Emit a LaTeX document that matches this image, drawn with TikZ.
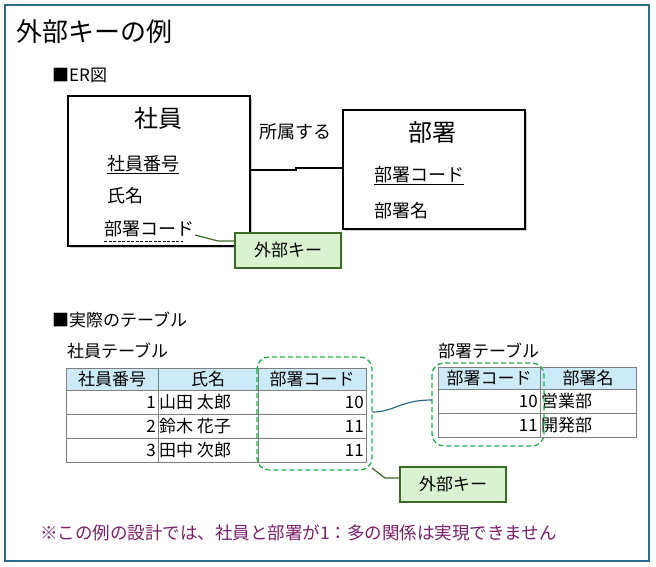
\documentclass[tikz,border=0pt]{standalone}
\usepackage{fontspec}
\setmainfont{Noto Sans CJK JP}
\usetikzlibrary{shadows}
\definecolor{frame}{HTML}{2E6A86}
\definecolor{gfill}{HTML}{D9F2D0}
\definecolor{gline}{HTML}{3B6A25}
\definecolor{hdr}{HTML}{CCEBF8}
\definecolor{grid}{HTML}{7F7F7F}
\definecolor{dgreen}{HTML}{1EB04A}
\definecolor{purp}{HTML}{7B1F6A}
\definecolor{link}{HTML}{2E6A8A}
\begin{document}
\begin{tikzpicture}[x=1pt,y=-1pt,
  ent/.style={draw=black,line width=1.3pt,fill=white,drop shadow={shadow xshift=2pt,shadow yshift=-2pt,opacity=0.4}},
  fk/.style={draw=gline,line width=1.3pt,fill=gfill,minimum width=106pt,minimum height=35pt,inner sep=0pt,font=\fontsize{17}{17}\selectfont},
  lbl/.style={anchor=west,inner sep=0pt,font=\fontsize{18}{18}\selectfont},
  cell/.style={inner sep=2pt,font=\fontsize{17}{17}\selectfont},
  gbox/.style={draw=dgreen,line width=1.3pt,dash pattern=on 5pt off 3pt,rounded corners=12pt}]
\useasboundingbox (0,0) rectangle (656,567);
\draw[frame,line width=1.2pt] (5,5) rectangle (649,561);
\node[lbl,font=\fontsize{26}{26}\selectfont] (title) at (16,32) {外部キーの例};
\node[lbl,font=\fontsize{17}{17}\selectfont] (er) at (52,75) {■ER図};
% entities
\node[ent,minimum width=182pt,minimum height=150pt,inner sep=0pt] (emp) at (159,171) {};
\node[ent,minimum width=182pt,minimum height=119pt,inner sep=0pt] (dep) at (434,169.5) {};
\node[font=\fontsize{24}{24}\selectfont] (empT) at (158,118) {社員};
\node[font=\fontsize{24}{24}\selectfont] (depT) at (432,132) {部署};
\node[lbl] (a1) at (107,165) {\underline{社員番号}};
\node[lbl] (a2) at (107,196) {氏名};
\node[lbl] (a3) at (104,229) {部署コード};
\draw[dash pattern=on 3pt off 1.5pt,line width=1pt] (104,241) -- (183,241);
\node[lbl] (b1) at (374,176) {\underline{部署コード}};
\node[lbl] (b2) at (374,211) {部署名};
\node[font=\fontsize{18}{18}\selectfont] (rel) at (295,132) {所属する};
\draw[line width=1.2pt] (emp.east|-0,170) -- (296,170) -- (296,168) -- (dep.west|-0,168);
\node[fk] (fk1) at (288,250.5) {外部キー};
\draw[gline,line width=1.2pt] (195,235) -- (218,241) -- (fk1.west|-0,241);
% tables
\node[lbl,font=\fontsize{17}{17}\selectfont] (real) at (52,320) {■実際のテーブル};
\node[lbl,font=\fontsize{17}{17}\selectfont] (t1) at (67,351) {社員テーブル};
\node[lbl,font=\fontsize{17}{17}\selectfont] (t2) at (438,351) {部署テーブル};
\fill[hdr] (66,368) rectangle (366,390);
\draw[grid,line width=0.8pt] (66,368) rectangle (366,462);
\foreach \y in {390,414,438} \draw[grid,line width=0.8pt] (66,\y) -- (366,\y);
\foreach \x in {158,258} \draw[grid,line width=0.8pt] (\x,368) -- (\x,462);
\node[cell] (h1) at (112,379) {社員番号};
\node[cell] (h2) at (208,379) {氏名};
\node[cell] (h3) at (312,379) {部署コード};
\foreach \n/\y/\nm/\c in {1/402/山田\ 太郎/10,2/426/鈴木\ 花子/11,3/450/田中\ 次郎/11}{
  \node[cell,anchor=east] (r\n a) at (158,\y) {\n};
  \node[cell,anchor=west,inner sep=1pt] (r\n b) at (158,\y) {\nm};
  \node[cell,anchor=east] (r\n c) at (366,\y) {\c};
}
\fill[hdr] (438,367) rectangle (636,389);
\draw[grid,line width=0.8pt] (438,367) rectangle (636,437);
\foreach \y in {389,413} \draw[grid,line width=0.8pt] (438,\y) -- (636,\y);
\draw[grid,line width=0.8pt] (540,367) -- (540,437);
\node[cell] (g1) at (489,378) {部署コード};
\node[cell] (g2) at (588,378) {部署名};
\node[cell,anchor=east] (s1a) at (540,401) {10};
\node[cell,anchor=west,inner sep=1pt] (s1b) at (540,401) {営業部};
\node[cell,anchor=east] (s2a) at (540,425) {11};
\node[cell,anchor=west,inner sep=1pt] (s2b) at (540,425) {開発部};
\draw[gbox] (257,357) rectangle (372,470);
\draw[gbox] (432,363) rectangle (544,446);
\coordinate (c1) at (372,412);
\coordinate (c2) at (432,400);
\draw[link,line width=1.2pt] (c1) .. controls (395,412) and (400,400) .. (c2);
\node[fk] (fk2) at (453,484.5) {外部キー};
\draw[gline,line width=1.2pt] (372,468) -- (385,478) -- (fk2.west|-0,478);
\node[lbl,text=purp,font=\fontsize{17.5}{17.5}\selectfont] (note) at (40,533) {※この例の設計では、社員と部署が1：多の関係は実現できません};
\end{tikzpicture}
\end{document}
